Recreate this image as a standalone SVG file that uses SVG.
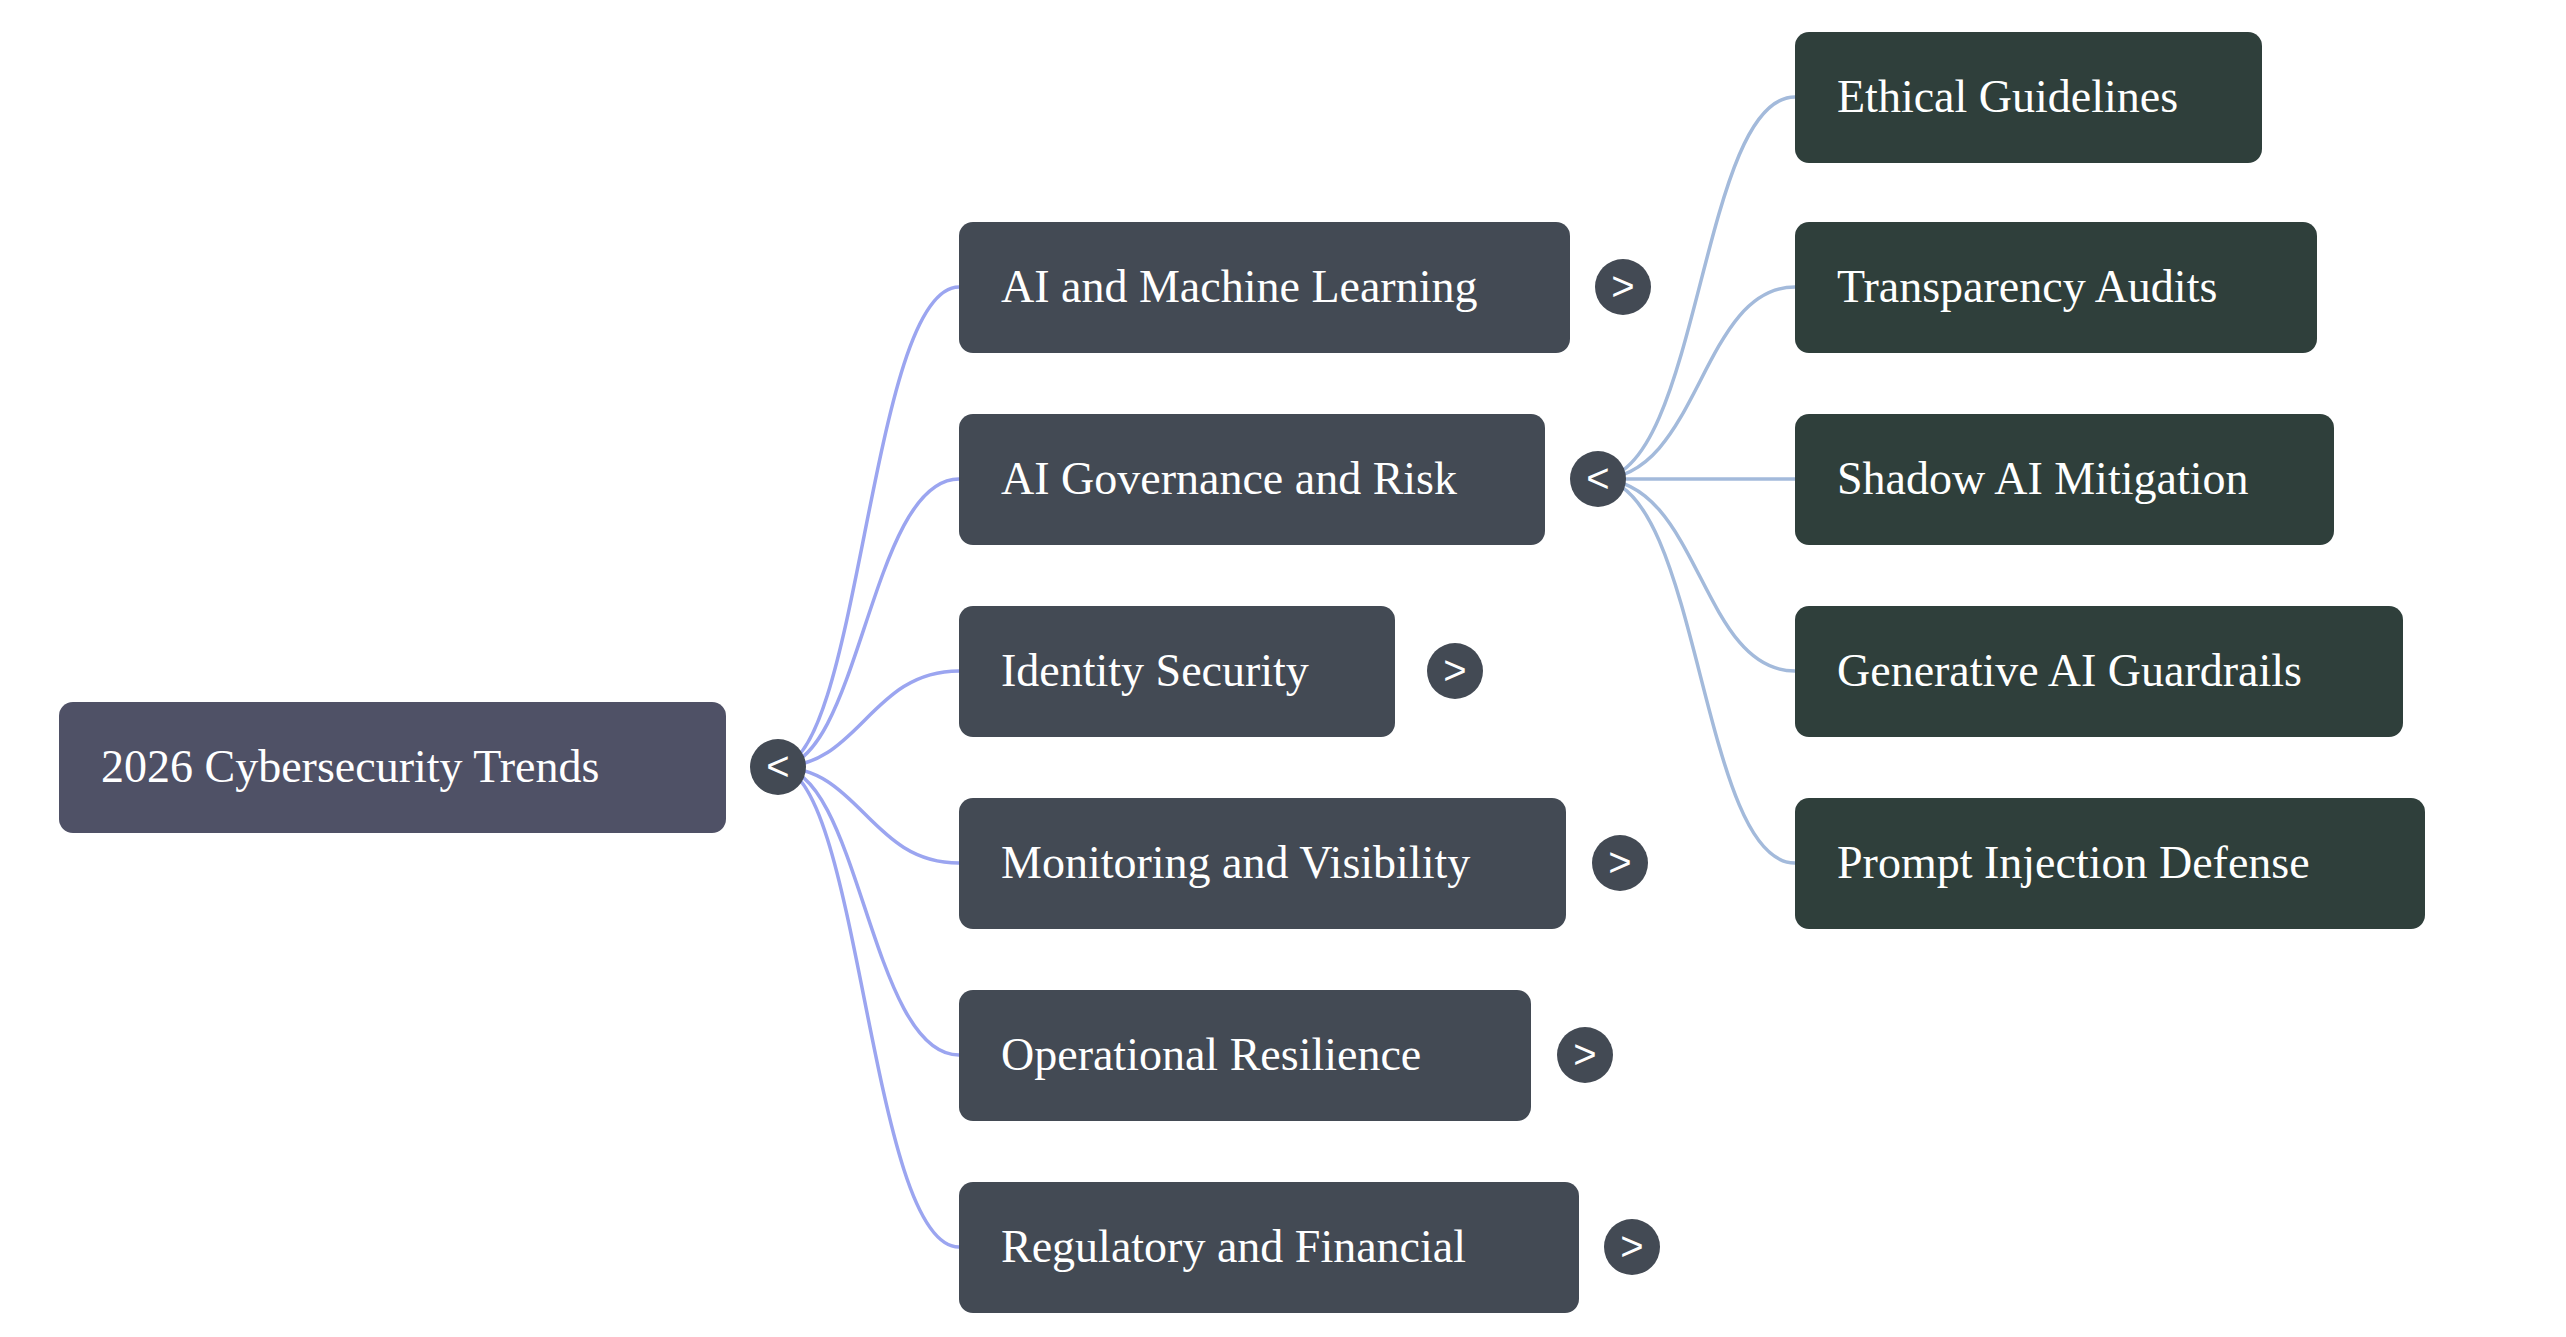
<svg xmlns="http://www.w3.org/2000/svg" width="2566" height="1337" viewBox="0 0 2566 1337">
<style>
.t{font-family:"Liberation Serif","Times New Roman",serif;font-size:46px;fill:#fff}
.b{font-family:"Liberation Sans",Arial,sans-serif;font-size:40px;fill:#fff;text-anchor:middle}
.r{fill:#4f5166}.l1{fill:#434a54}.l2{fill:#2f3f3b}.c{fill:#434a54}
.e1{fill:none;stroke:#9ba5f0;stroke-width:3.5}
.e2{fill:none;stroke:#a3badb;stroke-width:3.5}
</style>
<rect width="2566" height="1337" fill="#fff"/>
<g id="connectors">
<path class="e1" d="M778 767 C860 767 870 287 959 287"/>
<path class="e1" d="M778 767 C860 767 870 479 959 479"/>
<path class="e1" d="M778 767 C860 767 870 671 959 671"/>
<path class="e1" d="M778 767 C860 767 870 863 959 863"/>
<path class="e1" d="M778 767 C860 767 870 1055 959 1055"/>
<path class="e1" d="M778 767 C860 767 870 1247 959 1247"/>
<path class="e2" d="M1598 479 C1700 479 1700 97 1795 97"/>
<path class="e2" d="M1598 479 C1700 479 1700 287 1795 287"/>
<path class="e2" d="M1598 479 L1795 479"/>
<path class="e2" d="M1598 479 C1700 479 1700 671 1795 671"/>
<path class="e2" d="M1598 479 C1700 479 1700 863 1795 863"/>
</g>
<g id="root"><rect class="r" x="59" y="702" width="667" height="131" rx="14"/><text class="t" x="101" y="782">2026 Cybersecurity Trends</text><circle class="c" cx="778" cy="767" r="28"/><text class="b" x="778" y="780">&lt;</text></g>
<g id="n1"><rect class="l1" x="959" y="222" width="611" height="131" rx="14"/><text class="t" x="1001" y="302">AI and Machine Learning</text><circle class="c" cx="1623" cy="287" r="28"/><text class="b" x="1623" y="300">&gt;</text></g>
<g id="n2"><rect class="l1" x="959" y="414" width="586" height="131" rx="14"/><text class="t" x="1001" y="494">AI Governance and Risk</text><circle class="c" cx="1598" cy="479" r="28"/><text class="b" x="1598" y="492">&lt;</text></g>
<g id="n3"><rect class="l1" x="959" y="606" width="436" height="131" rx="14"/><text class="t" x="1001" y="686">Identity Security</text><circle class="c" cx="1455" cy="671" r="28"/><text class="b" x="1455" y="684">&gt;</text></g>
<g id="n4"><rect class="l1" x="959" y="798" width="607" height="131" rx="14"/><text class="t" x="1001" y="878">Monitoring and Visibility</text><circle class="c" cx="1620" cy="863" r="28"/><text class="b" x="1620" y="876">&gt;</text></g>
<g id="n5"><rect class="l1" x="959" y="990" width="572" height="131" rx="14"/><text class="t" x="1001" y="1070">Operational Resilience</text><circle class="c" cx="1585" cy="1055" r="28"/><text class="b" x="1585" y="1068">&gt;</text></g>
<g id="n6"><rect class="l1" x="959" y="1182" width="620" height="131" rx="14"/><text class="t" x="1001" y="1262">Regulatory and Financial</text><circle class="c" cx="1632" cy="1247" r="28"/><text class="b" x="1632" y="1260">&gt;</text></g>
<g id="m1"><rect class="l2" x="1795" y="32" width="467" height="131" rx="14"/><text class="t" x="1837" y="112">Ethical Guidelines</text></g>
<g id="m2"><rect class="l2" x="1795" y="222" width="522" height="131" rx="14"/><text class="t" x="1837" y="302">Transparency Audits</text></g>
<g id="m3"><rect class="l2" x="1795" y="414" width="539" height="131" rx="14"/><text class="t" x="1837" y="494">Shadow AI Mitigation</text></g>
<g id="m4"><rect class="l2" x="1795" y="606" width="608" height="131" rx="14"/><text class="t" x="1837" y="686">Generative AI Guardrails</text></g>
<g id="m5"><rect class="l2" x="1795" y="798" width="630" height="131" rx="14"/><text class="t" x="1837" y="878">Prompt Injection Defense</text></g>
</svg>
